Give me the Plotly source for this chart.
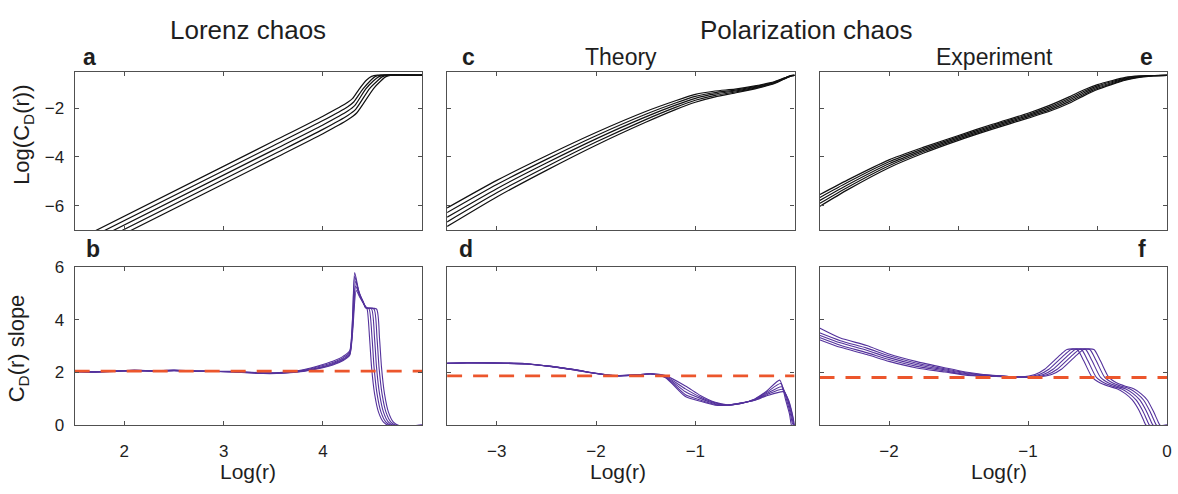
import plotly.graph_objects as go

W, H = 1178, 494

# ---------------- data ----------------
# Panel a: Lorenz chaos, Log(C_D(r)) vs Log(r), five embedding dimensions
a_x = [
    [1.5, 3.5, 4.0, 4.25, 4.30, 4.36, 4.44, 4.49, 4.55, 5.0],
    [1.5, 3.5, 4.0, 4.25, 4.31, 4.40, 4.48, 4.525, 4.585, 5.0],
    [1.5, 3.5, 4.0, 4.25, 4.32, 4.43, 4.51, 4.56, 4.62, 5.0],
    [1.5, 3.5, 4.0, 4.25, 4.33, 4.47, 4.55, 4.595, 4.655, 5.0],
    [1.5, 3.5, 4.0, 4.25, 4.34, 4.51, 4.585, 4.63, 4.69, 5.0],
]
a_y = [
    [-7.45, -3.36, -2.33, -1.76, -1.60, -1.25, -0.85, -0.70, -0.65, -0.65],
    [-7.63, -3.54, -2.51, -1.94, -1.75, -1.23, -0.87, -0.71, -0.65, -0.65],
    [-7.81, -3.72, -2.69, -2.12, -1.90, -1.22, -0.88, -0.72, -0.65, -0.65],
    [-7.99, -3.90, -2.87, -2.30, -2.05, -1.20, -0.88, -0.72, -0.65, -0.65],
    [-8.17, -4.08, -3.05, -2.48, -2.20, -1.20, -0.88, -0.72, -0.65, -0.65],
]

# Panel b: Lorenz chaos, slope of C_D(r)
b_x = [
    [1.5, 1.7, 1.9, 2.1, 2.3, 2.5, 2.8, 3.1, 3.4, 3.6, 3.8, 4.0, 4.1, 4.2, 4.27,
     4.32, 4.36, 4.40, 4.43, 4.445, 4.47, 4.49, 4.52, 4.56, 4.61, 4.66, 5.0],
    [1.5, 1.7, 1.9, 2.1, 2.3, 2.5, 2.8, 3.1, 3.4, 3.6, 3.8, 4.0, 4.1, 4.2, 4.27,
     4.32, 4.36, 4.40, 4.43, 4.465, 4.495, 4.515, 4.545, 4.585, 4.635, 4.685, 5.0],
    [1.5, 1.7, 1.9, 2.1, 2.3, 2.5, 2.8, 3.1, 3.4, 3.6, 3.8, 4.0, 4.1, 4.2, 4.27,
     4.33, 4.37, 4.41, 4.43, 4.49, 4.52, 4.54, 4.57, 4.61, 4.66, 4.71, 5.0],
    [1.5, 1.7, 1.9, 2.1, 2.3, 2.5, 2.8, 3.1, 3.4, 3.6, 3.8, 4.0, 4.1, 4.2, 4.27,
     4.33, 4.37, 4.41, 4.44, 4.515, 4.545, 4.565, 4.595, 4.635, 4.685, 4.735, 5.0],
    [1.5, 1.7, 1.9, 2.1, 2.3, 2.5, 2.8, 3.1, 3.4, 3.6, 3.8, 4.0, 4.1, 4.2, 4.27,
     4.335, 4.37, 4.41, 4.44, 4.54, 4.57, 4.59, 4.62, 4.66, 4.71, 4.76, 5.0],
]
b_y = [
    [2.03, 2.02, 2.05, 2.08, 2.06, 2.09, 2.05, 2.04, 1.99, 2.01, 2.10, 2.30, 2.42, 2.60, 2.82,
     5.78, 5.10, 4.70, 4.45, 4.40, 3.30, 2.20, 1.20, 0.50, 0.12, 0.0, 0.0],
    [2.05, 2.03, 2.04, 2.07, 2.07, 2.08, 2.04, 2.03, 1.98, 2.00, 2.08, 2.26, 2.38, 2.55, 2.76,
     5.64, 5.05, 4.68, 4.45, 4.40, 3.30, 2.20, 1.20, 0.50, 0.12, 0.0, 0.0],
    [2.04, 2.01, 2.06, 2.06, 2.05, 2.07, 2.05, 2.02, 1.97, 1.99, 2.06, 2.22, 2.34, 2.50, 2.72,
     5.45, 4.95, 4.65, 4.45, 4.40, 3.30, 2.20, 1.20, 0.50, 0.12, 0.0, 0.0],
    [2.02, 2.03, 2.05, 2.09, 2.06, 2.08, 2.04, 2.03, 1.97, 1.98, 2.05, 2.20, 2.31, 2.47, 2.68,
     5.27, 4.90, 4.62, 4.45, 4.40, 3.30, 2.20, 1.20, 0.50, 0.12, 0.0, 0.0],
    [2.04, 2.02, 2.04, 2.07, 2.05, 2.07, 2.05, 2.02, 1.96, 1.97, 2.04, 2.18, 2.28, 2.44, 2.65,
     5.10, 4.85, 4.60, 4.45, 4.40, 3.30, 2.20, 1.20, 0.50, 0.12, 0.0, 0.0],
]
b_ref = 2.05

# Panel c: polarization chaos (theory), Log(C_D(r))
c_x = [-3.5, -3.0, -2.5, -2.0, -1.5, -1.2, -1.0, -0.8, -0.6, -0.4, -0.2, -0.1, -0.03, 0.0]
c_y = [
    [-6.09, -4.96, -3.95, -3.00, -2.14, -1.70, -1.44, -1.30, -1.22, -1.09, -0.91, -0.76, -0.66, -0.66],
    [-6.28, -5.13, -4.10, -3.13, -2.25, -1.79, -1.52, -1.36, -1.26, -1.12, -0.93, -0.77, -0.67, -0.66],
    [-6.47, -5.30, -4.25, -3.26, -2.36, -1.88, -1.60, -1.42, -1.30, -1.15, -0.95, -0.78, -0.67, -0.66],
    [-6.66, -5.47, -4.40, -3.39, -2.47, -1.97, -1.68, -1.48, -1.34, -1.18, -0.97, -0.79, -0.67, -0.66],
    [-6.85, -5.64, -4.55, -3.52, -2.58, -2.06, -1.76, -1.54, -1.38, -1.21, -0.99, -0.80, -0.68, -0.66],
]

# Panel d: polarization chaos (theory), slope
d_x = [
    [-3.5, -3.3, -3.0, -2.7, -2.45, -2.2, -2.0, -1.8, -1.6, -1.45,
     -1.3, -1.1, -0.95, -0.8, -0.68, -0.55, -0.4, -0.28, -0.15, -0.09, -0.05, -0.03, 0.0],
    [-3.5, -3.3, -3.0, -2.7, -2.45, -2.2, -2.0, -1.8, -1.6, -1.45,
     -1.3, -1.1, -0.95, -0.8, -0.68, -0.55, -0.4, -0.28, -0.14, -0.08, -0.04, -0.02, 0.0],
    [-3.5, -3.3, -3.0, -2.7, -2.45, -2.2, -2.0, -1.8, -1.6, -1.45,
     -1.3, -1.1, -0.95, -0.8, -0.68, -0.55, -0.4, -0.28, -0.13, -0.07, -0.035, -0.015, 0.0],
    [-3.5, -3.3, -3.0, -2.7, -2.45, -2.2, -2.0, -1.8, -1.6, -1.45,
     -1.3, -1.1, -0.95, -0.8, -0.68, -0.55, -0.4, -0.28, -0.12, -0.065, -0.03, -0.01, 0.0],
    [-3.5, -3.3, -3.0, -2.7, -2.45, -2.2, -2.0, -1.8, -1.6, -1.45,
     -1.3, -1.1, -0.95, -0.8, -0.68, -0.55, -0.4, -0.28, -0.11, -0.06, -0.03, -0.01, 0.0],
]
d_y = [
    [2.35, 2.37, 2.37, 2.33, 2.23, 2.10, 1.97, 1.88, 1.90, 1.95,
     1.88, 1.49, 1.13, 0.87, 0.78, 0.82, 1.00, 1.30, 1.71, 0.95, 0.40, 0.00, 0.00],
    [2.34, 2.36, 2.36, 2.32, 2.22, 2.09, 1.96, 1.87, 1.90, 1.95,
     1.86, 1.38, 1.07, 0.85, 0.77, 0.82, 0.99, 1.25, 1.58, 0.95, 0.40, 0.05, 0.00],
    [2.36, 2.37, 2.35, 2.32, 2.23, 2.09, 1.97, 1.88, 1.91, 1.94,
     1.84, 1.27, 1.02, 0.82, 0.76, 0.83, 0.97, 1.20, 1.46, 0.95, 0.45, 0.10, 0.00],
    [2.35, 2.36, 2.36, 2.33, 2.22, 2.10, 1.96, 1.87, 1.90, 1.94,
     1.82, 1.16, 0.96, 0.79, 0.76, 0.83, 0.96, 1.16, 1.36, 0.95, 0.50, 0.15, 0.00],
    [2.34, 2.37, 2.35, 2.32, 2.23, 2.08, 1.96, 1.88, 1.91, 1.95,
     1.80, 1.09, 0.91, 0.76, 0.76, 0.84, 0.95, 1.12, 1.27, 0.95, 0.55, 0.20, 0.00],
]
d_ref = 1.87

# Panel e: polarization chaos (experiment), Log(C_D(r))
e_x = [-2.5, -2.3, -2.0, -1.75, -1.5, -1.25, -1.0, -0.85, -0.7, -0.6, -0.5, -0.4, -0.3, -0.2, -0.1, 0.0]
e_y = [
    [-5.55, -4.95, -4.12, -3.60, -3.12, -2.65, -2.21, -1.90, -1.53, -1.26, -1.04, -0.88, -0.74, -0.68, -0.664, -0.66],
    [-5.67, -5.05, -4.20, -3.66, -3.17, -2.70, -2.26, -1.96, -1.595, -1.32, -1.09, -0.92, -0.77, -0.695, -0.667, -0.66],
    [-5.79, -5.15, -4.28, -3.72, -3.22, -2.75, -2.31, -2.02, -1.66, -1.38, -1.14, -0.96, -0.80, -0.71, -0.67, -0.66],
    [-5.91, -5.25, -4.36, -3.78, -3.27, -2.80, -2.36, -2.08, -1.725, -1.44, -1.19, -1.00, -0.83, -0.725, -0.673, -0.66],
    [-6.03, -5.35, -4.44, -3.84, -3.32, -2.85, -2.41, -2.14, -1.79, -1.50, -1.24, -1.04, -0.86, -0.74, -0.676, -0.66],
]

# Panel f: polarization chaos (experiment), slope
f_x = [
    [-2.5, -2.35, -2.16, -2.0, -1.8, -1.6, -1.45, -1.23,
     -1.05, -0.95, -0.88, -0.82, -0.76, -0.72, -0.646, -0.60, -0.538, -0.48, -0.42, -0.36, -0.30, -0.25, -0.20, -0.165, -0.15, 0.0],
    [-2.5, -2.35, -2.16, -2.0, -1.8, -1.6, -1.45, -1.23,
     -1.02, -0.92, -0.85, -0.79, -0.73, -0.69, -0.616, -0.57, -0.508, -0.45, -0.39, -0.33, -0.272, -0.223, -0.175, -0.14, -0.125, 0.0],
    [-2.5, -2.35, -2.16, -2.0, -1.8, -1.6, -1.45, -1.23,
     -0.99, -0.89, -0.82, -0.76, -0.70, -0.66, -0.586, -0.54, -0.478, -0.42, -0.36, -0.30, -0.244, -0.196, -0.15, -0.115, -0.10, 0.0],
    [-2.5, -2.35, -2.16, -2.0, -1.8, -1.6, -1.45, -1.23,
     -0.96, -0.86, -0.79, -0.73, -0.67, -0.63, -0.556, -0.51, -0.448, -0.39, -0.33, -0.27, -0.216, -0.169, -0.125, -0.09, -0.075, 0.0],
    [-2.5, -2.35, -2.16, -2.0, -1.8, -1.6, -1.45, -1.23,
     -0.93, -0.83, -0.76, -0.70, -0.64, -0.60, -0.526, -0.48, -0.418, -0.36, -0.30, -0.24, -0.188, -0.142, -0.10, -0.065, -0.05, 0.0],
]
f_y = [
    [3.68, 3.30, 3.02, 2.70, 2.41, 2.18, 2.02, 1.88,
     1.83, 1.92, 2.12, 2.41, 2.70, 2.87, 2.87, 2.45, 1.81, 1.60, 1.48, 1.38, 1.20, 0.96, 0.55, 0.15, 0.0, 0.0],
    [3.50, 3.20, 2.92, 2.63, 2.35, 2.14, 1.99, 1.87,
     1.83, 1.92, 2.12, 2.41, 2.70, 2.87, 2.87, 2.45, 1.81, 1.60, 1.48, 1.38, 1.20, 0.96, 0.55, 0.15, 0.0, 0.0],
    [3.41, 3.12, 2.84, 2.56, 2.29, 2.10, 1.96, 1.87,
     1.83, 1.92, 2.12, 2.41, 2.70, 2.87, 2.87, 2.45, 1.81, 1.60, 1.48, 1.38, 1.20, 0.96, 0.55, 0.15, 0.0, 0.0],
    [3.32, 3.03, 2.75, 2.49, 2.23, 2.06, 1.93, 1.86,
     1.83, 1.92, 2.12, 2.41, 2.70, 2.87, 2.87, 2.45, 1.81, 1.60, 1.48, 1.38, 1.20, 0.96, 0.55, 0.15, 0.0, 0.0],
    [3.24, 2.95, 2.68, 2.42, 2.17, 2.02, 1.90, 1.85,
     1.83, 1.92, 2.12, 2.41, 2.70, 2.87, 2.87, 2.45, 1.81, 1.60, 1.48, 1.38, 1.20, 0.96, 0.55, 0.15, 0.0, 0.0],
]
f_ref = 1.81

# axis ranges and ticks
x_range_lorenz = [1.5, 5.0]
x_range_theory = [-3.5, 0.0]
x_range_exp = [-2.5, 0.0]
y_range_top = [-7.0, -0.5]
y_range_bottom = [0.0, 6.0]
ticks_x_lorenz = [2, 3, 4]
ticks_x_theory = [-3, -2, -1]
ticks_x_exp_top = [-2, -1.5, -1, -0.5]
ticks_x_exp_bottom = [-2, -1, 0]
ticks_y_top = [-6, -4, -2]
ticks_y_bottom = [0, 2, 4, 6]

# ---------------- styling ----------------
FONT = "Liberation Sans, Arial, Helvetica, sans-serif"
TXT = "#1e1e1e"
FRAME = "#505050"
BLACK = "#111111"
PURPLE = "rgb(84,50,156)"
RED = "rgb(236,86,44)"

# panel pixel boxes (left, right, top, bottom)
cols_px = [(75, 424), (449, 798), (823, 1172)]
rows_px = [(65, 230), (268, 433)]


def xdom(c):
    l, r = cols_px[c]
    return [l / W, r / W]


def ydom(rw):
    t, b = rows_px[rw]
    return [1 - b / H, 1 - t / H]


fig = go.Figure()

panels = [
    # (axis index, row, col, xrange, yrange, xticks, yticks, show x labels, show y labels)
    (1, 0, 0, x_range_lorenz, y_range_top, ticks_x_lorenz, ticks_y_top, False, True),
    (2, 0, 1, x_range_theory, y_range_top, ticks_x_theory, ticks_y_top, False, False),
    (3, 0, 2, x_range_exp, y_range_top, ticks_x_exp_top, ticks_y_top, False, False),
    (4, 1, 0, x_range_lorenz, y_range_bottom, ticks_x_lorenz, ticks_y_bottom, True, True),
    (5, 1, 1, x_range_theory, y_range_bottom, ticks_x_theory, ticks_y_bottom, True, False),
    (6, 1, 2, x_range_exp, y_range_bottom, ticks_x_exp_bottom, ticks_y_bottom, True, False),
]

layout_axes = {}
for idx, rw, cl, xr, yr, xt, yt, sxl, syl in panels:
    sfx = "" if idx == 1 else str(idx)
    common = dict(
        showline=True, linecolor=FRAME, linewidth=1.3, mirror="ticks",
        ticks="inside", ticklen=4, tickwidth=1, tickcolor=FRAME,
        showgrid=False, zeroline=False, fixedrange=True,
        tickfont=dict(family=FONT, size=17, color=TXT),
    )
    layout_axes["xaxis" + sfx] = dict(
        common, domain=xdom(cl), range=xr, anchor="y" + sfx,
        tickmode="array", tickvals=xt, showticklabels=sxl,
        ticklabelstandoff=10,
    )
    layout_axes["yaxis" + sfx] = dict(
        common, domain=ydom(rw), range=yr, anchor="x" + sfx,
        tickmode="array", tickvals=yt, showticklabels=syl,
        ticklabelstandoff=6,
    )

fig.update_layout(**layout_axes)


def add_lines(xs, ys, axis_idx, color, width, shared_x=False):
    sfx = "" if axis_idx == 1 else str(axis_idx)
    for k, yv in enumerate(ys):
        xv = xs if shared_x else xs[k]
        fig.add_trace(go.Scatter(
            x=xv, y=yv, mode="lines", xaxis="x" + sfx, yaxis="y" + sfx,
            line=dict(color=color, width=width, shape="spline", smoothing=0.6),
            showlegend=False, hoverinfo="skip", cliponaxis=True,
        ))


def add_ref(val, xr, axis_idx):
    sfx = str(axis_idx)
    fig.add_trace(go.Scatter(
        x=xr, y=[val, val], mode="lines", xaxis="x" + sfx, yaxis="y" + sfx,
        line=dict(color=RED, width=2.8, dash="15px,11px"),
        showlegend=False, hoverinfo="skip",
    ))


add_lines(a_x, a_y, 1, BLACK, 1.2)
add_lines(c_x, c_y, 2, BLACK, 1.2, shared_x=True)
add_lines(e_x, e_y, 3, BLACK, 1.2, shared_x=True)
add_lines(b_x, b_y, 4, PURPLE, 1.1)
add_lines(d_x, d_y, 5, PURPLE, 1.1)
add_lines(f_x, f_y, 6, PURPLE, 1.1)
add_ref(b_ref, x_range_lorenz, 4)
add_ref(d_ref, x_range_theory, 5)
add_ref(f_ref, x_range_exp, 6)

annotations = []


def txt(x, y, s, size, bold=False, angle=0, xanchor="center", yanchor="middle"):
    annotations.append(dict(
        x=x / W, y=1 - y / H, xref="paper", yref="paper", text=s, showarrow=False,
        xanchor=xanchor, yanchor=yanchor, textangle=angle, borderpad=0,
        font=dict(family=FONT, size=size, color=TXT,
                  weight="bold" if bold else "normal"),
    ))


txt(249, 22, "Lorenz chaos", 26)
txt(809, 22, "Polarization chaos", 26)
txt(624, 50, "Theory", 23)
txt(999, 50, "Experiment", 23)
txt(90, 50, "a", 23, bold=True)
txt(93, 250, "b", 23, bold=True)
txt(470, 50, "c", 23, bold=True)
txt(468, 250, "d", 23, bold=True)
txt(1151, 50, "e", 23, bold=True)
txt(1147, 250, "f", 23, bold=True)
txt(23, 131, "Log(C<sub>D</sub>(r))", 22, angle=-90)
txt(19, 353, "C<sub>D</sub>(r) slope", 22, angle=-90)
txt(249, 494, "Log(r)", 21, yanchor="bottom")
txt(621, 494, "Log(r)", 21, yanchor="bottom")
txt(1003, 494, "Log(r)", 21, yanchor="bottom")

fig.update_layout(
    width=W, height=H, margin=dict(l=0, r=0, t=0, b=0),
    paper_bgcolor="white", plot_bgcolor="white",
    annotations=annotations, showlegend=False,
)

fig.write_html(
    "out.html",
    config={"displayModeBar": False},
    post_script="document.body.style.margin='0';document.body.style.overflow='hidden';",
)
